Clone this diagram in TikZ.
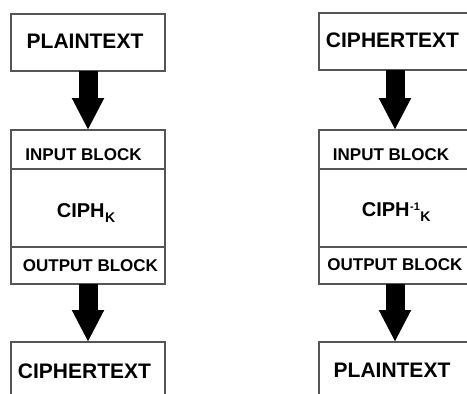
\documentclass[tikz,border=0pt]{standalone}
\usepackage{fontspec}
\setmainfont{Liberation Sans}
\usetikzlibrary{arrows.meta}
\definecolor{boxline}{RGB}{85,85,85}
\tikzset{
  blk/.style={draw=boxline, line width=1.2pt, rectangle, inner sep=0pt, outer sep=0pt, fill=white},
  bigarrow/.style={draw=black, line width=19pt, -{Triangle[length=32pt 0 0, width=30pt 0]}},
  biglbl/.style={inner sep=0pt, font=\fontsize{21}{21}\selectfont\bfseries},
  smalllbl/.style={inner sep=0pt, font=\fontsize{17}{17}\selectfont\bfseries},
  ciphlbl/.style={inner sep=0pt, anchor=base west, font=\fontsize{20}{20}\selectfont\bfseries}
}
\newcommand{\subK}{\kern0.5pt\raisebox{-5pt}{\fontsize{14}{14}\selectfont K}}
\newcommand{\supM}{\kern0.5pt\raisebox{6pt}{\fontsize{11}{11}\selectfont -1}}
\begin{document}
\begin{tikzpicture}[x=1pt,y=-1pt]
\useasboundingbox (0,0) rectangle (467,394);
\fill[white] (0,0) rectangle (467,394);
\clip (0,0) rectangle (467,394);
% left column
\node[blk, minimum width=154pt, minimum height=57pt] (ptL) at (88,42.5) {};
\node[blk, minimum width=154pt, minimum height=39pt] (inL) at (88,149.5) {};
\node[blk, minimum width=154pt, minimum height=78pt] (cL) at (88,208) {};
\node[blk, minimum width=154pt, minimum height=37pt] (oL) at (88,265.5) {};
\node[blk, minimum width=154pt, minimum height=60pt] (ctL) at (88,372) {};
% right column
\node[blk, minimum width=152pt, minimum height=57pt] (ctR) at (395,41.5) {};
\node[blk, minimum width=152pt, minimum height=39pt] (inR) at (395,149.5) {};
\node[blk, minimum width=152pt, minimum height=78pt] (cR) at (395,208) {};
\node[blk, minimum width=152pt, minimum height=37pt] (oR) at (395,265.5) {};
\node[blk, minimum width=152pt, minimum height=60pt] (ptR) at (395,372) {};
% arrows
\draw[bigarrow] (ptL.south) -- (inL.north);
\draw[bigarrow] (oL.south) -- (ctL.north);
\draw[bigarrow] (ctR.south) -- (inR.north);
\draw[bigarrow] (oR.south) -- (ptR.north);
% labels
\node[biglbl] (tptL) at (85,41) {PLAINTEXT};
\node[smalllbl] (tinL) at (83.5,155) {INPUT BLOCK};
\node[ciphlbl] (tcL) at (56.7,217.3) {CIPH\subK};
\node[smalllbl] (toL) at (90.5,265.5) {OUTPUT BLOCK};
\node[biglbl] (tctL) at (84.5,371) {CIPHERTEXT};
\node[biglbl] (tctR) at (392.5,40) {CIPHERTEXT};
\node[smalllbl] (tinR) at (391,154.5) {INPUT BLOCK};
\node[ciphlbl] (tcR) at (361.7,216.7) {CIPH\supM\subK};
\node[smalllbl] (toR) at (395,265) {OUTPUT BLOCK};
\node[biglbl] (tptR) at (392,370) {PLAINTEXT};
\end{tikzpicture}
\end{document}
